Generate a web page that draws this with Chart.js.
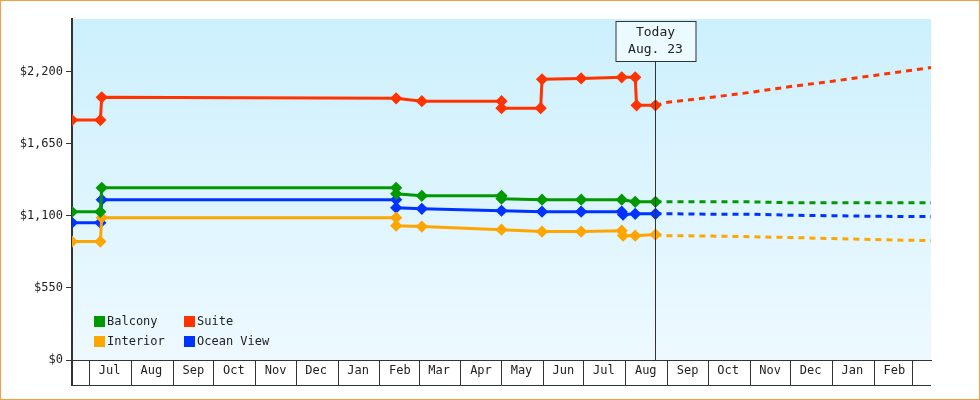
<!DOCTYPE html>
<html>
<head>
<meta charset="utf-8">
<script src="https://cdn.jsdelivr.net/npm/chart.js@4/dist/chart.umd.min.js"></script>
<style>
  body { margin: 0; background: #fff; }
  #wrap { width: 980px; height: 400px; box-sizing: border-box; border: 1px solid #f0a040; position: relative; }
</style>
</head>
<body>
<div id="wrap"><canvas id="chart" width="978" height="398"></canvas></div>
<script>
// x values are dates, converted to days since 2023-07-01
const suiteDates  = ['2023-06-18','2023-07-09','2023-07-10','2024-02-13','2024-03-03','2024-05-01','2024-05-01','2024-05-30','2024-05-31','2024-06-29','2024-07-29','2024-08-08','2024-08-09','2024-08-23'];
const suiteValues = [1829, 1829, 2003, 1995, 1973, 1973, 1920, 1920, 2140, 2147, 2155, 2155, 1942, 1942];
const balconyDates  = ['2023-06-18','2023-07-09','2023-07-10','2024-02-13','2024-02-13','2024-03-03','2024-05-01','2024-05-01','2024-05-31','2024-06-29','2024-07-29','2024-08-08','2024-08-23'];
const balconyValues = [1130, 1130, 1313, 1313, 1267, 1252, 1252, 1230, 1222, 1222, 1222, 1206, 1206];
const oceanDates  = ['2023-06-18','2023-07-09','2023-07-10','2024-02-13','2024-02-13','2024-03-03','2024-05-01','2024-05-31','2024-06-29','2024-07-29','2024-07-30','2024-08-08','2024-08-23'];
const oceanValues = [1047, 1047, 1222, 1222, 1161, 1153, 1138, 1131, 1131, 1131, 1108, 1115, 1115];
const interiorDates  = ['2023-06-18','2023-07-09','2023-07-10','2024-02-13','2024-02-13','2024-03-03','2024-05-01','2024-05-31','2024-06-29','2024-07-29','2024-07-30','2024-08-08','2024-08-23'];
const interiorValues = [903, 903, 1085, 1085, 1024, 1017, 994, 979, 979, 986, 948, 948, 956];

// forecast (dotted)
const forecastDates   = ['2024-08-23','2024-09-01','2024-10-01','2024-11-01','2024-12-01','2025-01-01','2025-02-01','2025-03-15'];
const suiteForecast   = [1942, 1965, 2000, 2040, 2085, 2125, 2170, 2230];
const balconyForecast = [1206, 1206, 1206, 1206, 1199, 1199, 1199, 1199];
const oceanForecast   = [1115, 1115, 1112, 1112, 1104, 1100, 1096, 1093];
const interiorForecast= [956, 948, 945, 940, 934, 926, 918, 910];

const monthStarts = ['2023-07-01','2023-08-01','2023-09-01','2023-10-01','2023-11-01','2023-12-01','2024-01-01','2024-02-01','2024-03-01','2024-04-01','2024-05-01','2024-06-01','2024-07-01','2024-08-01','2024-09-01','2024-10-01','2024-11-01','2024-12-01','2025-01-01','2025-02-01','2025-03-01'];
const monthLabels = ['Jul','Aug','Sep','Oct','Nov','Dec','Jan','Feb','Mar','Apr','May','Jun','Jul','Aug','Sep','Oct','Nov','Dec','Jan','Feb',''];
const yTicks = [0, 550, 1100, 1650, 2200];
const xStart = '2023-06-18', xEnd = '2025-03-15', today = '2024-08-23';

const day = s => (Date.parse(s) - Date.parse('2023-07-01')) / 86400000;
const pts = (d, v) => d.map((s, i) => ({ x: day(s), y: v[i] }));
const FONT = 'DejaVu Sans Mono';

const series = [
  { label: 'Balcony', color: '#009900', d: balconyDates, v: balconyValues, f: balconyForecast },
  { label: 'Suite', color: '#ff3300', d: suiteDates, v: suiteValues, f: suiteForecast },
  { label: 'Interior', color: '#ffa500', d: interiorDates, v: interiorValues, f: interiorForecast },
  { label: 'Ocean View', color: '#0033ff', d: oceanDates, v: oceanValues, f: oceanForecast },
];
const datasets = [];
series.forEach(s => {
  datasets.push({ label: s.label, data: pts(s.d, s.v), borderColor: s.color, backgroundColor: s.color,
    borderWidth: 3, pointStyle: 'rectRot', pointRadius: 4, pointHoverRadius: 4 });
  datasets.push({ label: s.label + ' forecast', data: pts(forecastDates, s.f), borderColor: s.color,
    borderWidth: 3, borderDash: [6, 5], pointRadius: 0 });
});

const decor = {
  id: 'decor',
  beforeDraw(chart) {
    const { ctx, chartArea: a } = chart;
    const g = ctx.createLinearGradient(0, a.top, 0, a.bottom);
    g.addColorStop(0, '#ccf0fd'); g.addColorStop(1, '#eef9ff');
    ctx.fillStyle = g; ctx.fillRect(a.left, a.top, a.right - a.left, a.bottom - a.top);
  },
  afterDraw(chart) {
    const { ctx, chartArea: a, scales: { x } } = chart;
    ctx.save();
    // bottom line of month boxes and axis extension
    ctx.strokeStyle = '#333'; ctx.lineWidth = 1;
    ctx.beginPath(); ctx.moveTo(a.left, a.bottom + 25.5); ctx.lineTo(a.right, a.bottom + 25.5); ctx.stroke();
    ctx.lineWidth = 2;
    ctx.beginPath(); ctx.moveTo(a.left, a.bottom); ctx.lineTo(a.left, a.bottom + 26); ctx.stroke();
    ctx.lineWidth = 1;
    // today marker
    const tx = Math.round(x.getPixelForValue(day(today))) + 0.5;
    ctx.beginPath(); ctx.moveTo(tx, a.bottom); ctx.lineTo(tx, 60); ctx.stroke();
    ctx.fillStyle = '#eafaff'; ctx.fillRect(tx - 40, 20, 80, 40);
    ctx.strokeRect(tx - 40 + 0.5, 20.5, 80, 40);
    ctx.fillStyle = '#222'; ctx.font = '13px ' + FONT; ctx.textAlign = 'center'; ctx.textBaseline = 'middle';
    ctx.fillText('Today', tx, 32); ctx.fillText('Aug. 23', tx, 49);
    // legend
    ctx.textAlign = 'left'; ctx.font = '12px ' + FONT;
    series.forEach((s, i) => {
      const lx = a.left + 22 + (i % 2) * 90, ly = 320 + Math.floor(i / 2) * 20;
      ctx.fillStyle = s.color; ctx.fillRect(lx, ly - 5, 11, 11);
      ctx.fillStyle = '#222'; ctx.fillText(s.label, lx + 13, ly + 1);
    });
    ctx.restore();
  }
};

new Chart(document.getElementById('chart'), {
  type: 'line',
  data: { datasets },
  options: {
    responsive: false, animation: false,
    layout: { padding: { top: 18, right: 48, bottom: 14, left: 0 } },
    plugins: { legend: { display: false }, tooltip: { enabled: false } },
    scales: {
      x: {
        type: 'linear', min: day(xStart), max: day(xEnd),
        afterBuildTicks: s => { s.ticks = [day(xStart)].concat(monthStarts.map(day)).map(v => ({ value: v })); },
        afterFit: s => { s.height = 25; },
        grid: { drawOnChartArea: false, color: '#333', tickLength: 25 },
        border: { color: '#333', width: 1 },
        ticks: {
          autoSkip: false, maxRotation: 0, padding: -21, labelOffset: 20, color: '#222',
          font: { family: FONT, size: 12 },
          callback: v => { const i = monthStarts.map(day).indexOf(v); return i < 0 ? '' : monthLabels[i]; }
        }
      },
      y: {
        min: 0, max: 2600,
        afterBuildTicks: s => { s.ticks = yTicks.map(v => ({ value: v })); },
        afterFit: s => { s.width = 71; },
        grid: { drawOnChartArea: false, color: '#333', tickLength: 6 },
        border: { color: '#333', width: 2 },
        ticks: { color: '#222', font: { family: FONT, size: 12 }, callback: v => '$' + v.toLocaleString('en-US') }
      }
    }
  },
  plugins: [decor]
});
</script>
</body>
</html>
